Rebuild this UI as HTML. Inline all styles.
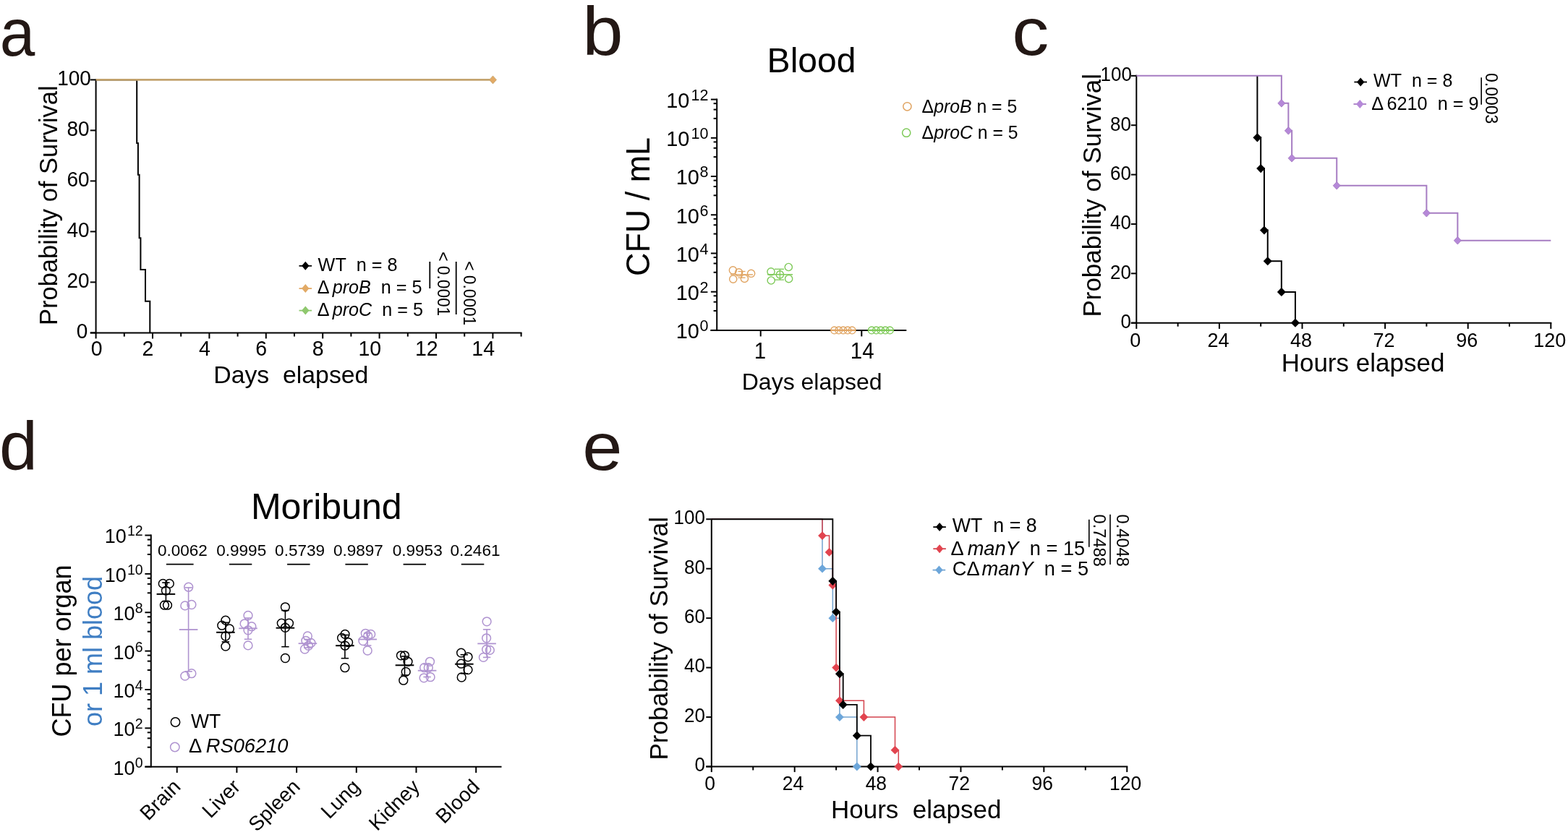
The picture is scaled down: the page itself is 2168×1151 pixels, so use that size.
<!DOCTYPE html>
<html><head><meta charset="utf-8"><title>Figure</title>
<style>
html,body{margin:0;padding:0;background:#fff;}
svg{display:block;}
svg text{font-family:'Liberation Sans', Arial, Helvetica, sans-serif;}
</style></head>
<body>
<svg width="2168" height="1151" viewBox="0 0 2168 1151" font-family="'Liberation Sans', Arial, Helvetica, sans-serif">
<rect width="2168" height="1151" fill="#fff"/>
<text transform="translate(-0.31,76.7) scale(0.9483,1)" font-size="92.17" fill="#231815">a</text>
<text transform="translate(805.17,75.68) scale(1.0722,1)" font-size="94.36" fill="#231815">b</text>
<text transform="translate(1399.26,75.89) scale(1.1008,1)" font-size="92.72" fill="#231815">c</text>
<text transform="translate(-0.9,649.98) scale(1.0130,1)" font-size="93.95" fill="#231815">d</text>
<text transform="translate(805.18,650.29) scale(1.0691,1)" font-size="92.90" fill="#231815">e</text>
<line x1="132.6" y1="109.4" x2="132.6" y2="461.4" stroke="#000" stroke-width="2.0" stroke-linecap="butt"/>
<line x1="124.8" y1="460.4" x2="132.6" y2="460.4" stroke="#000" stroke-width="2.0" stroke-linecap="butt"/>
<text transform="translate(121.3,467.7) scale(1,1.04)" font-size="28" text-anchor="end" fill="#000" >0</text>
<line x1="124.8" y1="390.4" x2="132.6" y2="390.4" stroke="#000" stroke-width="2.0" stroke-linecap="butt"/>
<text transform="translate(123.6,397.7) scale(1,1.04)" font-size="28" text-anchor="end" fill="#000" >20</text>
<line x1="124.8" y1="320.4" x2="132.6" y2="320.4" stroke="#000" stroke-width="2.0" stroke-linecap="butt"/>
<text transform="translate(123.6,327.7) scale(1,1.04)" font-size="28" text-anchor="end" fill="#000" >40</text>
<line x1="124.8" y1="250.4" x2="132.6" y2="250.4" stroke="#000" stroke-width="2.0" stroke-linecap="butt"/>
<text transform="translate(123.6,257.7) scale(1,1.04)" font-size="28" text-anchor="end" fill="#000" >60</text>
<line x1="124.8" y1="180.4" x2="132.6" y2="180.4" stroke="#000" stroke-width="2.0" stroke-linecap="butt"/>
<text transform="translate(123.6,187.7) scale(1,1.04)" font-size="28" text-anchor="end" fill="#000" >80</text>
<line x1="124.8" y1="110.4" x2="132.6" y2="110.4" stroke="#000" stroke-width="2.0" stroke-linecap="butt"/>
<text transform="translate(125.9,117.7) scale(1,1.04)" font-size="28" text-anchor="end" fill="#000" >100</text>
<line x1="124.8" y1="460.4" x2="721.5" y2="460.4" stroke="#000" stroke-width="2.0" stroke-linecap="butt"/>
<line x1="132.6" y1="460.4" x2="132.6" y2="468.4" stroke="#000" stroke-width="2.0" stroke-linecap="butt"/>
<text transform="translate(133.7,492) scale(1,1.04)" font-size="28.5" text-anchor="middle" fill="#000" >0</text>
<line x1="171.8" y1="460.4" x2="171.8" y2="465.6" stroke="#000" stroke-width="2.0" stroke-linecap="butt"/>
<line x1="211" y1="460.4" x2="211" y2="468.4" stroke="#000" stroke-width="2.0" stroke-linecap="butt"/>
<text transform="translate(212.4,492.3) scale(1,1.04)" font-size="28.5" text-anchor="end" fill="#000" >2</text>
<line x1="250.2" y1="460.4" x2="250.2" y2="465.6" stroke="#000" stroke-width="2.0" stroke-linecap="butt"/>
<line x1="289.4" y1="460.4" x2="289.4" y2="468.4" stroke="#000" stroke-width="2.0" stroke-linecap="butt"/>
<text transform="translate(290.8,492.3) scale(1,1.04)" font-size="28.5" text-anchor="end" fill="#000" >4</text>
<line x1="328.6" y1="460.4" x2="328.6" y2="465.6" stroke="#000" stroke-width="2.0" stroke-linecap="butt"/>
<line x1="367.8" y1="460.4" x2="367.8" y2="468.4" stroke="#000" stroke-width="2.0" stroke-linecap="butt"/>
<text transform="translate(369.2,492.3) scale(1,1.04)" font-size="28.5" text-anchor="end" fill="#000" >6</text>
<line x1="407" y1="460.4" x2="407" y2="465.6" stroke="#000" stroke-width="2.0" stroke-linecap="butt"/>
<line x1="446.2" y1="460.4" x2="446.2" y2="468.4" stroke="#000" stroke-width="2.0" stroke-linecap="butt"/>
<text transform="translate(447.6,492.3) scale(1,1.04)" font-size="28.5" text-anchor="end" fill="#000" >8</text>
<line x1="485.4" y1="460.4" x2="485.4" y2="465.6" stroke="#000" stroke-width="2.0" stroke-linecap="butt"/>
<line x1="524.6" y1="460.4" x2="524.6" y2="468.4" stroke="#000" stroke-width="2.0" stroke-linecap="butt"/>
<text transform="translate(527.2,492.3) scale(1,1.04)" font-size="28.5" text-anchor="end" fill="#000" >10</text>
<line x1="563.8" y1="460.4" x2="563.8" y2="465.6" stroke="#000" stroke-width="2.0" stroke-linecap="butt"/>
<line x1="603" y1="460.4" x2="603" y2="468.4" stroke="#000" stroke-width="2.0" stroke-linecap="butt"/>
<text transform="translate(605.6,492.3) scale(1,1.04)" font-size="28.5" text-anchor="end" fill="#000" >12</text>
<line x1="642.2" y1="460.4" x2="642.2" y2="465.6" stroke="#000" stroke-width="2.0" stroke-linecap="butt"/>
<line x1="681.4" y1="460.4" x2="681.4" y2="468.4" stroke="#000" stroke-width="2.0" stroke-linecap="butt"/>
<text transform="translate(684,492.3) scale(1,1.04)" font-size="28.5" text-anchor="end" fill="#000" >14</text>
<line x1="720.6" y1="460.4" x2="720.6" y2="465.6" stroke="#000" stroke-width="2.0" stroke-linecap="butt"/>
<text transform="translate(402.3,530)" font-size="33.8" text-anchor="middle" fill="#000" >Days&#160;&#160;elapsed</text>
<text transform="translate(79.1,450) rotate(-90)" font-size="34.5" text-anchor="start" fill="#000" >Probability of Survival</text>
<polyline points="132.6,110.4 189.2,110.4 189.2,197.9 190.9,197.9 190.9,241.65 192.6,241.65 192.6,329.15 194.4,329.15 194.4,372.9 201,372.9 201,416.65 207.3,416.65 207.3,460.4" fill="none" stroke="#000" stroke-width="2.0" stroke-linejoin="miter" stroke-linecap="butt"/>
<line x1="132.6" y1="110.4" x2="681.5" y2="110.4" stroke="#C3A36E" stroke-width="2.6" stroke-linecap="butt"/>
<polygon points="681.5,104.9 686.5,110.4 681.5,115.9 676.5,110.4" fill="#E2AA66" stroke="#C3A36E" stroke-width="0.8"/>
<line x1="413.5" y1="367.8" x2="431.1" y2="367.8" stroke="#000" stroke-width="1.8" stroke-linecap="butt"/>
<polygon points="422.3,361.8 427.5,367.8 422.3,373.8 417.1,367.8" fill="#000"/>
<line x1="413.5" y1="399.1" x2="431.1" y2="399.1" stroke="#E2AA66" stroke-width="1.8" stroke-linecap="butt"/>
<polygon points="422.3,393.1 427.5,399.1 422.3,405.1 417.1,399.1" fill="#E2AA66"/>
<line x1="413.5" y1="429.6" x2="431.1" y2="429.6" stroke="#8FC86E" stroke-width="1.8" stroke-linecap="butt"/>
<polygon points="422.3,423.6 427.5,429.6 422.3,435.6 417.1,429.6" fill="#8FC86E"/>
<text transform="translate(439.6,374.9) scale(1,1.03)" font-size="25.2" text-anchor="start" fill="#000" >WT&#160;&#160;n = 8</text>
<text transform="translate(438.8,406.1) scale(1,1.03)" font-size="25.2" text-anchor="start" fill="#000" >&#916;<tspan font-style="italic" dx="4">proB</tspan>&#160;&#160;n = 5</text>
<text transform="translate(438.8,436.6) scale(1,1.03)" font-size="25.2" text-anchor="start" fill="#000" >&#916;<tspan font-style="italic" dx="4">proC</tspan>&#160;&#160;n = 5</text>
<line x1="594.3" y1="362" x2="594.3" y2="399" stroke="#000" stroke-width="1.8" stroke-linecap="butt"/>
<line x1="630.7" y1="362" x2="630.7" y2="435" stroke="#000" stroke-width="1.8" stroke-linecap="butt"/>
<text transform="translate(605,348.3) rotate(90) scale(1,1.04)" font-size="22.7" text-anchor="start" fill="#000" >&lt; 0.0001</text>
<text transform="translate(641.2,361.3) rotate(90) scale(1,1.04)" font-size="22.7" text-anchor="start" fill="#000" >&lt; 0.0001</text>
<line x1="991.2" y1="136.58" x2="991.2" y2="457.9" stroke="#000" stroke-width="2.0" stroke-linecap="butt"/>
<line x1="982.9" y1="456.9" x2="991.2" y2="456.9" stroke="#000" stroke-width="2.0" stroke-linecap="butt"/>
<line x1="982.9" y1="403.68" x2="991.2" y2="403.68" stroke="#000" stroke-width="2.0" stroke-linecap="butt"/>
<line x1="986.6" y1="409.28" x2="991.2" y2="409.28" stroke="#000" stroke-width="2.0" stroke-linecap="butt"/>
<line x1="986.6" y1="417.68" x2="991.2" y2="417.68" stroke="#000" stroke-width="2.0" stroke-linecap="butt"/>
<line x1="986.6" y1="429.98" x2="991.2" y2="429.98" stroke="#000" stroke-width="2.0" stroke-linecap="butt"/>
<line x1="982.9" y1="350.46" x2="991.2" y2="350.46" stroke="#000" stroke-width="2.0" stroke-linecap="butt"/>
<line x1="986.6" y1="356.06" x2="991.2" y2="356.06" stroke="#000" stroke-width="2.0" stroke-linecap="butt"/>
<line x1="986.6" y1="364.46" x2="991.2" y2="364.46" stroke="#000" stroke-width="2.0" stroke-linecap="butt"/>
<line x1="986.6" y1="376.76" x2="991.2" y2="376.76" stroke="#000" stroke-width="2.0" stroke-linecap="butt"/>
<line x1="982.9" y1="297.24" x2="991.2" y2="297.24" stroke="#000" stroke-width="2.0" stroke-linecap="butt"/>
<line x1="986.6" y1="302.84" x2="991.2" y2="302.84" stroke="#000" stroke-width="2.0" stroke-linecap="butt"/>
<line x1="986.6" y1="311.24" x2="991.2" y2="311.24" stroke="#000" stroke-width="2.0" stroke-linecap="butt"/>
<line x1="986.6" y1="323.54" x2="991.2" y2="323.54" stroke="#000" stroke-width="2.0" stroke-linecap="butt"/>
<line x1="982.9" y1="244.02" x2="991.2" y2="244.02" stroke="#000" stroke-width="2.0" stroke-linecap="butt"/>
<line x1="986.6" y1="249.62" x2="991.2" y2="249.62" stroke="#000" stroke-width="2.0" stroke-linecap="butt"/>
<line x1="986.6" y1="258.02" x2="991.2" y2="258.02" stroke="#000" stroke-width="2.0" stroke-linecap="butt"/>
<line x1="986.6" y1="270.32" x2="991.2" y2="270.32" stroke="#000" stroke-width="2.0" stroke-linecap="butt"/>
<line x1="982.9" y1="190.8" x2="991.2" y2="190.8" stroke="#000" stroke-width="2.0" stroke-linecap="butt"/>
<line x1="986.6" y1="196.4" x2="991.2" y2="196.4" stroke="#000" stroke-width="2.0" stroke-linecap="butt"/>
<line x1="986.6" y1="204.8" x2="991.2" y2="204.8" stroke="#000" stroke-width="2.0" stroke-linecap="butt"/>
<line x1="986.6" y1="217.1" x2="991.2" y2="217.1" stroke="#000" stroke-width="2.0" stroke-linecap="butt"/>
<line x1="982.9" y1="137.58" x2="991.2" y2="137.58" stroke="#000" stroke-width="2.0" stroke-linecap="butt"/>
<line x1="986.6" y1="143.18" x2="991.2" y2="143.18" stroke="#000" stroke-width="2.0" stroke-linecap="butt"/>
<line x1="986.6" y1="151.58" x2="991.2" y2="151.58" stroke="#000" stroke-width="2.0" stroke-linecap="butt"/>
<line x1="986.6" y1="163.88" x2="991.2" y2="163.88" stroke="#000" stroke-width="2.0" stroke-linecap="butt"/>
<text transform="translate(979.5,468.2)" font-size="28.9" text-anchor="end">10<tspan font-size="21.5" dy="-10" dx="0.66">0</tspan></text>
<text transform="translate(979.5,414.98)" font-size="28.9" text-anchor="end">10<tspan font-size="21.5" dy="-10" dx="0.66">2</tspan></text>
<text transform="translate(979.5,361.76)" font-size="28.9" text-anchor="end">10<tspan font-size="21.5" dy="-10" dx="0.66">4</tspan></text>
<text transform="translate(979.5,308.54)" font-size="28.9" text-anchor="end">10<tspan font-size="21.5" dy="-10" dx="0.66">6</tspan></text>
<text transform="translate(979.5,255.32)" font-size="28.9" text-anchor="end">10<tspan font-size="21.5" dy="-10" dx="0.66">8</tspan></text>
<text transform="translate(979.5,202.1)" font-size="28.9" text-anchor="end">10<tspan font-size="21.5" dy="-10" dx="2.2">10</tspan></text>
<text transform="translate(979.5,148.88)" font-size="28.9" text-anchor="end">10<tspan font-size="21.5" dy="-10" dx="2.2">12</tspan></text>
<line x1="982.3" y1="456.9" x2="1253.3" y2="456.9" stroke="#000" stroke-width="2.0" stroke-linecap="butt"/>
<line x1="1051.7" y1="456.9" x2="1051.7" y2="465.4" stroke="#000" stroke-width="2.0" stroke-linecap="butt"/>
<line x1="1191.3" y1="456.9" x2="1191.3" y2="465.4" stroke="#000" stroke-width="2.0" stroke-linecap="butt"/>
<text transform="translate(1051,496.2) scale(1,1.04)" font-size="29.5" text-anchor="middle" fill="#000" >1</text>
<text transform="translate(1192.2,496.2) scale(1,1.04)" font-size="29.5" text-anchor="middle" fill="#000" >14</text>
<text transform="translate(1122.7,538.8)" font-size="32" text-anchor="middle" fill="#000" >Days elapsed</text>
<text x="1122" y="100.2" font-size="48" text-anchor="middle">Blood</text>
<text transform="translate(898.4,382) rotate(-90) scale(1,1.04)" font-size="44.9" text-anchor="start" fill="#000" >CFU / mL</text>
<circle cx="1013.4" cy="373.8" r="5.1" fill="none" stroke="#E0A462" stroke-width="1.4"/>
<circle cx="1013.7" cy="386.2" r="5.1" fill="none" stroke="#E0A462" stroke-width="1.4"/>
<circle cx="1021.6" cy="376.8" r="5.1" fill="none" stroke="#E0A462" stroke-width="1.4"/>
<circle cx="1029.4" cy="385.4" r="5.1" fill="none" stroke="#E0A462" stroke-width="1.4"/>
<circle cx="1038.6" cy="378.3" r="5.1" fill="none" stroke="#E0A462" stroke-width="1.4"/>
<line x1="1010" y1="379.9" x2="1041" y2="379.9" stroke="#E0A462" stroke-width="1.4" stroke-linecap="butt"/>
<line x1="1025.5" y1="375.5" x2="1025.5" y2="384.2" stroke="#E0A462" stroke-width="1.3" stroke-linecap="butt"/>
<line x1="1020.5" y1="375.5" x2="1030.5" y2="375.5" stroke="#E0A462" stroke-width="1.3" stroke-linecap="butt"/>
<line x1="1020.5" y1="384.2" x2="1030.5" y2="384.2" stroke="#E0A462" stroke-width="1.3" stroke-linecap="butt"/>
<circle cx="1066" cy="375.8" r="5.1" fill="none" stroke="#7DC957" stroke-width="1.4"/>
<circle cx="1066.2" cy="388" r="5.1" fill="none" stroke="#7DC957" stroke-width="1.4"/>
<circle cx="1078.4" cy="379.9" r="5.1" fill="none" stroke="#7DC957" stroke-width="1.4"/>
<circle cx="1090.3" cy="369.5" r="5.1" fill="none" stroke="#7DC957" stroke-width="1.4"/>
<circle cx="1090.6" cy="385.7" r="5.1" fill="none" stroke="#7DC957" stroke-width="1.4"/>
<line x1="1061" y1="379.8" x2="1096" y2="379.8" stroke="#7DC957" stroke-width="1.4" stroke-linecap="butt"/>
<line x1="1078.4" y1="372.3" x2="1078.4" y2="387.1" stroke="#7DC957" stroke-width="1.3" stroke-linecap="butt"/>
<line x1="1071" y1="372.3" x2="1084" y2="372.3" stroke="#7DC957" stroke-width="1.3" stroke-linecap="butt"/>
<line x1="1071" y1="387.1" x2="1084" y2="387.1" stroke="#7DC957" stroke-width="1.3" stroke-linecap="butt"/>
<circle cx="1153.6" cy="456.9" r="4.9" fill="none" stroke="#E0A462" stroke-width="1.3"/>
<circle cx="1159.73" cy="456.9" r="4.9" fill="none" stroke="#E0A462" stroke-width="1.3"/>
<circle cx="1165.86" cy="456.9" r="4.9" fill="none" stroke="#E0A462" stroke-width="1.3"/>
<circle cx="1171.99" cy="456.9" r="4.9" fill="none" stroke="#E0A462" stroke-width="1.3"/>
<circle cx="1178.12" cy="456.9" r="4.9" fill="none" stroke="#E0A462" stroke-width="1.3"/>
<line x1="1148.5" y1="456.9" x2="1183.3" y2="456.9" stroke="#E0A462" stroke-width="2.2" stroke-linecap="butt"/>
<circle cx="1205.2" cy="456.9" r="4.9" fill="none" stroke="#7DC957" stroke-width="1.3"/>
<circle cx="1211.5" cy="456.9" r="4.9" fill="none" stroke="#7DC957" stroke-width="1.3"/>
<circle cx="1217.8" cy="456.9" r="4.9" fill="none" stroke="#7DC957" stroke-width="1.3"/>
<circle cx="1224.1" cy="456.9" r="4.9" fill="none" stroke="#7DC957" stroke-width="1.3"/>
<circle cx="1230.4" cy="456.9" r="4.9" fill="none" stroke="#7DC957" stroke-width="1.3"/>
<line x1="1200" y1="456.9" x2="1235.6" y2="456.9" stroke="#7DC957" stroke-width="2.2" stroke-linecap="butt"/>
<circle cx="1254.4" cy="147.3" r="5.6" fill="none" stroke="#E0A462" stroke-width="1.5"/>
<circle cx="1253.2" cy="183.7" r="5.6" fill="none" stroke="#7DC957" stroke-width="1.5"/>
<text transform="translate(1274.6,155.9) scale(1,1.03)" font-size="24.8" text-anchor="start" fill="#000" >&#916;<tspan font-style="italic">proB</tspan> n = 5</text>
<text transform="translate(1274.6,192) scale(1,1.03)" font-size="24.8" text-anchor="start" fill="#000" >&#916;<tspan font-style="italic">proC</tspan> n = 5</text>
<line x1="1571.3" y1="103.85" x2="1571.3" y2="447.7" stroke="#000" stroke-width="2.0" stroke-linecap="butt"/>
<line x1="1563.8" y1="446.7" x2="1571.3" y2="446.7" stroke="#000" stroke-width="2.0" stroke-linecap="butt"/>
<text transform="translate(1564,454) scale(1,1.04)" font-size="26" text-anchor="end" fill="#000" >0</text>
<line x1="1563.8" y1="378.33" x2="1571.3" y2="378.33" stroke="#000" stroke-width="2.0" stroke-linecap="butt"/>
<text transform="translate(1564,385.63) scale(1,1.04)" font-size="26" text-anchor="end" fill="#000" >20</text>
<line x1="1563.8" y1="309.96" x2="1571.3" y2="309.96" stroke="#000" stroke-width="2.0" stroke-linecap="butt"/>
<text transform="translate(1564,317.26) scale(1,1.04)" font-size="26" text-anchor="end" fill="#000" >40</text>
<line x1="1563.8" y1="241.59" x2="1571.3" y2="241.59" stroke="#000" stroke-width="2.0" stroke-linecap="butt"/>
<text transform="translate(1564,248.89) scale(1,1.04)" font-size="26" text-anchor="end" fill="#000" >60</text>
<line x1="1563.8" y1="173.22" x2="1571.3" y2="173.22" stroke="#000" stroke-width="2.0" stroke-linecap="butt"/>
<text transform="translate(1564,180.52) scale(1,1.04)" font-size="26" text-anchor="end" fill="#000" >80</text>
<line x1="1563.8" y1="104.85" x2="1571.3" y2="104.85" stroke="#000" stroke-width="2.0" stroke-linecap="butt"/>
<text transform="translate(1564.9,112.15) scale(1,1.04)" font-size="26" text-anchor="end" fill="#000" >100</text>
<line x1="1563.8" y1="446.7" x2="2145.3" y2="446.7" stroke="#000" stroke-width="2.0" stroke-linecap="butt"/>
<line x1="1571.3" y1="446.7" x2="1571.3" y2="454.9" stroke="#000" stroke-width="2.0" stroke-linecap="butt"/>
<text transform="translate(1569.8,480.2)" font-size="27" text-anchor="middle" fill="#000" >0</text>
<line x1="1628.6" y1="446.7" x2="1628.6" y2="451.7" stroke="#000" stroke-width="2.0" stroke-linecap="butt"/>
<line x1="1685.9" y1="446.7" x2="1685.9" y2="454.9" stroke="#000" stroke-width="2.0" stroke-linecap="butt"/>
<text transform="translate(1684.4,480.2)" font-size="27" text-anchor="middle" fill="#000" >24</text>
<line x1="1743.2" y1="446.7" x2="1743.2" y2="451.7" stroke="#000" stroke-width="2.0" stroke-linecap="butt"/>
<line x1="1800.5" y1="446.7" x2="1800.5" y2="454.9" stroke="#000" stroke-width="2.0" stroke-linecap="butt"/>
<text transform="translate(1799,480.2)" font-size="27" text-anchor="middle" fill="#000" >48</text>
<line x1="1857.8" y1="446.7" x2="1857.8" y2="451.7" stroke="#000" stroke-width="2.0" stroke-linecap="butt"/>
<line x1="1915.1" y1="446.7" x2="1915.1" y2="454.9" stroke="#000" stroke-width="2.0" stroke-linecap="butt"/>
<text transform="translate(1913.6,480.2)" font-size="27" text-anchor="middle" fill="#000" >72</text>
<line x1="1972.4" y1="446.7" x2="1972.4" y2="451.7" stroke="#000" stroke-width="2.0" stroke-linecap="butt"/>
<line x1="2029.7" y1="446.7" x2="2029.7" y2="454.9" stroke="#000" stroke-width="2.0" stroke-linecap="butt"/>
<text transform="translate(2028.2,480.2)" font-size="27" text-anchor="middle" fill="#000" >96</text>
<line x1="2087" y1="446.7" x2="2087" y2="451.7" stroke="#000" stroke-width="2.0" stroke-linecap="butt"/>
<line x1="2144.3" y1="446.7" x2="2144.3" y2="454.9" stroke="#000" stroke-width="2.0" stroke-linecap="butt"/>
<text transform="translate(2142.8,480.2)" font-size="27" text-anchor="middle" fill="#000" >120</text>
<text transform="translate(1884.5,514)" font-size="35" text-anchor="middle" fill="#000" >Hours elapsed</text>
<text transform="translate(1522.2,438.6) rotate(-90)" font-size="35" text-anchor="start" fill="#000" >Probability of Survival</text>
<polyline points="1738.42,104.85 1738.42,190.31 1743.2,190.31 1743.2,233.04 1747.97,233.04 1747.97,318.51 1752.75,318.51 1752.75,361.24 1771.85,361.24 1771.85,403.97 1790.95,403.97 1790.95,446.7" fill="none" stroke="#000" stroke-width="2.0" stroke-linejoin="miter" stroke-linecap="butt"/>
<polygon points="1738.42,184.21 1744.42,190.31 1738.42,196.41 1732.42,190.31" fill="#000"/>
<polygon points="1743.2,226.94 1749.2,233.04 1743.2,239.14 1737.2,233.04" fill="#000"/>
<polygon points="1747.97,312.41 1753.97,318.51 1747.97,324.61 1741.97,318.51" fill="#000"/>
<polygon points="1752.75,355.14 1758.75,361.24 1752.75,367.34 1746.75,361.24" fill="#000"/>
<polygon points="1771.85,397.87 1777.85,403.97 1771.85,410.07 1765.85,403.97" fill="#000"/>
<polygon points="1790.95,440.6 1796.95,446.7 1790.95,452.8 1784.95,446.7" fill="#000"/>
<polyline points="1571.3,104.85 1771.85,104.85 1771.85,142.83 1781.4,142.83 1781.4,180.82 1786.17,180.82 1786.17,218.8 1848.25,218.8 1848.25,256.78 1972.4,256.78 1972.4,294.77 2015.38,294.77 2015.38,332.75 2144.3,332.75" fill="none" stroke="#A67CC2" stroke-width="2.0" stroke-linejoin="miter" stroke-linecap="butt"/>
<polygon points="1771.85,137.53 1776.85,142.83 1771.85,148.13 1766.85,142.83" fill="#B588D8" stroke="#A67CC2" stroke-width="0.9"/>
<polygon points="1781.4,175.52 1786.4,180.82 1781.4,186.12 1776.4,180.82" fill="#B588D8" stroke="#A67CC2" stroke-width="0.9"/>
<polygon points="1786.17,213.5 1791.17,218.8 1786.17,224.1 1781.17,218.8" fill="#B588D8" stroke="#A67CC2" stroke-width="0.9"/>
<polygon points="1848.25,251.48 1853.25,256.78 1848.25,262.08 1843.25,256.78" fill="#B588D8" stroke="#A67CC2" stroke-width="0.9"/>
<polygon points="1972.4,289.47 1977.4,294.77 1972.4,300.07 1967.4,294.77" fill="#B588D8" stroke="#A67CC2" stroke-width="0.9"/>
<polygon points="2015.38,327.45 2020.38,332.75 2015.38,338.05 2010.38,332.75" fill="#B588D8" stroke="#A67CC2" stroke-width="0.9"/>
<line x1="1872.4" y1="113.5" x2="1890" y2="113.5" stroke="#000" stroke-width="1.8" stroke-linecap="butt"/>
<polygon points="1881.2,107.5 1886.4,113.5 1881.2,119.5 1876,113.5" fill="#000"/>
<line x1="1871.5" y1="144" x2="1889.1" y2="144" stroke="#A67CC2" stroke-width="1.8" stroke-linecap="butt"/>
<polygon points="1880.3,138 1885.5,144 1880.3,150 1875.1,144" fill="#B588D8"/>
<text transform="translate(1899,120) scale(1,1.03)" font-size="25.1" text-anchor="start" fill="#000" >WT&#160;&#160;n = 8</text>
<text transform="translate(1896.2,152.3) scale(1,1.04)" font-size="25.3" text-anchor="start" fill="#000" >&#916;<tspan dx="4.3">6210</tspan>&#160;&#160;n = 9</text>
<line x1="2048.2" y1="107.2" x2="2048.2" y2="144.8" stroke="#000" stroke-width="1.6" stroke-linecap="butt"/>
<text transform="translate(2053.8,101) rotate(90) scale(1,1.04)" font-size="23.0" text-anchor="start" fill="#000" >0.0003</text>
<line x1="208.8" y1="739.54" x2="208.8" y2="1061.7" stroke="#000" stroke-width="2.0" stroke-linecap="butt"/>
<line x1="200.4" y1="1060.7" x2="208.8" y2="1060.7" stroke="#000" stroke-width="2.0" stroke-linecap="butt"/>
<line x1="200.4" y1="1007.34" x2="208.8" y2="1007.34" stroke="#000" stroke-width="2.0" stroke-linecap="butt"/>
<line x1="203.8" y1="1013.34" x2="208.8" y2="1013.34" stroke="#000" stroke-width="2.0" stroke-linecap="butt"/>
<line x1="203.8" y1="1021.34" x2="208.8" y2="1021.34" stroke="#000" stroke-width="2.0" stroke-linecap="butt"/>
<line x1="203.8" y1="1033.74" x2="208.8" y2="1033.74" stroke="#000" stroke-width="2.0" stroke-linecap="butt"/>
<line x1="200.4" y1="953.98" x2="208.8" y2="953.98" stroke="#000" stroke-width="2.0" stroke-linecap="butt"/>
<line x1="203.8" y1="959.98" x2="208.8" y2="959.98" stroke="#000" stroke-width="2.0" stroke-linecap="butt"/>
<line x1="203.8" y1="967.98" x2="208.8" y2="967.98" stroke="#000" stroke-width="2.0" stroke-linecap="butt"/>
<line x1="203.8" y1="980.38" x2="208.8" y2="980.38" stroke="#000" stroke-width="2.0" stroke-linecap="butt"/>
<line x1="200.4" y1="900.62" x2="208.8" y2="900.62" stroke="#000" stroke-width="2.0" stroke-linecap="butt"/>
<line x1="203.8" y1="906.62" x2="208.8" y2="906.62" stroke="#000" stroke-width="2.0" stroke-linecap="butt"/>
<line x1="203.8" y1="914.62" x2="208.8" y2="914.62" stroke="#000" stroke-width="2.0" stroke-linecap="butt"/>
<line x1="203.8" y1="927.02" x2="208.8" y2="927.02" stroke="#000" stroke-width="2.0" stroke-linecap="butt"/>
<line x1="200.4" y1="847.26" x2="208.8" y2="847.26" stroke="#000" stroke-width="2.0" stroke-linecap="butt"/>
<line x1="203.8" y1="853.26" x2="208.8" y2="853.26" stroke="#000" stroke-width="2.0" stroke-linecap="butt"/>
<line x1="203.8" y1="861.26" x2="208.8" y2="861.26" stroke="#000" stroke-width="2.0" stroke-linecap="butt"/>
<line x1="203.8" y1="873.66" x2="208.8" y2="873.66" stroke="#000" stroke-width="2.0" stroke-linecap="butt"/>
<line x1="200.4" y1="793.9" x2="208.8" y2="793.9" stroke="#000" stroke-width="2.0" stroke-linecap="butt"/>
<line x1="203.8" y1="799.9" x2="208.8" y2="799.9" stroke="#000" stroke-width="2.0" stroke-linecap="butt"/>
<line x1="203.8" y1="807.9" x2="208.8" y2="807.9" stroke="#000" stroke-width="2.0" stroke-linecap="butt"/>
<line x1="203.8" y1="820.3" x2="208.8" y2="820.3" stroke="#000" stroke-width="2.0" stroke-linecap="butt"/>
<line x1="200.4" y1="740.54" x2="208.8" y2="740.54" stroke="#000" stroke-width="2.0" stroke-linecap="butt"/>
<line x1="203.8" y1="746.54" x2="208.8" y2="746.54" stroke="#000" stroke-width="2.0" stroke-linecap="butt"/>
<line x1="203.8" y1="754.54" x2="208.8" y2="754.54" stroke="#000" stroke-width="2.0" stroke-linecap="butt"/>
<line x1="203.8" y1="766.94" x2="208.8" y2="766.94" stroke="#000" stroke-width="2.0" stroke-linecap="butt"/>
<text transform="translate(197.6,1071.6)" font-size="27" text-anchor="end">10<tspan font-size="19.5" dy="-10" dx="0.3">0</tspan></text>
<text transform="translate(197.6,1018.24)" font-size="27" text-anchor="end">10<tspan font-size="19.5" dy="-10" dx="0.3">2</tspan></text>
<text transform="translate(197.6,964.88)" font-size="27" text-anchor="end">10<tspan font-size="19.5" dy="-10" dx="0.3">4</tspan></text>
<text transform="translate(197.6,911.52)" font-size="27" text-anchor="end">10<tspan font-size="19.5" dy="-10" dx="0.3">6</tspan></text>
<text transform="translate(197.6,858.16)" font-size="27" text-anchor="end">10<tspan font-size="19.5" dy="-10" dx="0.3">8</tspan></text>
<text transform="translate(197.6,804.8)" font-size="27" text-anchor="end">10<tspan font-size="19.5" dy="-10" dx="1">10</tspan></text>
<text transform="translate(197.6,751.44)" font-size="27" text-anchor="end">10<tspan font-size="19.5" dy="-10" dx="1">12</tspan></text>
<line x1="200.4" y1="1060.7" x2="693.5" y2="1060.7" stroke="#000" stroke-width="2.0" stroke-linecap="butt"/>
<line x1="244.7" y1="1060.7" x2="244.7" y2="1069.1" stroke="#000" stroke-width="2.0" stroke-linecap="butt"/>
<text transform="translate(251.2,1090) rotate(-45)" font-size="28" text-anchor="end" fill="#000" >Brain</text>
<line x1="327.4" y1="1060.7" x2="327.4" y2="1069.1" stroke="#000" stroke-width="2.0" stroke-linecap="butt"/>
<text transform="translate(333.9,1090) rotate(-45)" font-size="28" text-anchor="end" fill="#000" >Liver</text>
<line x1="410.1" y1="1060.7" x2="410.1" y2="1069.1" stroke="#000" stroke-width="2.0" stroke-linecap="butt"/>
<text transform="translate(416.6,1090) rotate(-45)" font-size="28" text-anchor="end" fill="#000" >Spleen</text>
<line x1="492.8" y1="1060.7" x2="492.8" y2="1069.1" stroke="#000" stroke-width="2.0" stroke-linecap="butt"/>
<text transform="translate(499.3,1090) rotate(-45)" font-size="28" text-anchor="end" fill="#000" >Lung</text>
<line x1="575.5" y1="1060.7" x2="575.5" y2="1069.1" stroke="#000" stroke-width="2.0" stroke-linecap="butt"/>
<text transform="translate(582,1090) rotate(-45)" font-size="28" text-anchor="end" fill="#000" >Kidney</text>
<line x1="658.2" y1="1060.7" x2="658.2" y2="1069.1" stroke="#000" stroke-width="2.0" stroke-linecap="butt"/>
<text transform="translate(664.7,1090) rotate(-45)" font-size="28" text-anchor="end" fill="#000" >Blood</text>
<text x="451.3" y="717.5" font-size="50.1" text-anchor="middle">Moribund</text>
<text x="252.4" y="769.4" font-size="22" text-anchor="middle" textLength="69" lengthAdjust="spacingAndGlyphs">0.0062</text>
<text x="333.7" y="769.4" font-size="22" text-anchor="middle" textLength="69" lengthAdjust="spacingAndGlyphs">0.9995</text>
<text x="414.6" y="769.4" font-size="22" text-anchor="middle" textLength="69" lengthAdjust="spacingAndGlyphs">0.5739</text>
<text x="495.4" y="769.4" font-size="22" text-anchor="middle" textLength="69" lengthAdjust="spacingAndGlyphs">0.9897</text>
<text x="577.2" y="769.4" font-size="22" text-anchor="middle" textLength="69" lengthAdjust="spacingAndGlyphs">0.9953</text>
<text x="657" y="769.4" font-size="22" text-anchor="middle" textLength="69" lengthAdjust="spacingAndGlyphs">0.2461</text>
<line x1="229.9" y1="780.7" x2="267.6" y2="780.7" stroke="#000" stroke-width="1.8" stroke-linecap="butt"/>
<line x1="316.9" y1="780.7" x2="348.3" y2="780.7" stroke="#000" stroke-width="1.8" stroke-linecap="butt"/>
<line x1="397.1" y1="780.7" x2="428.6" y2="780.7" stroke="#000" stroke-width="1.8" stroke-linecap="butt"/>
<line x1="477.4" y1="780.7" x2="508.8" y2="780.7" stroke="#000" stroke-width="1.8" stroke-linecap="butt"/>
<line x1="557.6" y1="780.7" x2="589" y2="780.7" stroke="#000" stroke-width="1.8" stroke-linecap="butt"/>
<line x1="637.8" y1="780.7" x2="669.3" y2="780.7" stroke="#000" stroke-width="1.8" stroke-linecap="butt"/>
<text transform="translate(97.8,1019.5) rotate(-90)" font-size="36" text-anchor="start" fill="#000" >CFU per organ</text>
<text transform="translate(140.8,1005) rotate(-90)" font-size="36" text-anchor="start" fill="#3F7EC3" >or 1 ml blood</text>
<circle cx="225.3" cy="807.4" r="5.9" fill="none" stroke="#000" stroke-width="1.5"/>
<circle cx="234.3" cy="807.4" r="5.9" fill="none" stroke="#000" stroke-width="1.5"/>
<circle cx="229.4" cy="817.1" r="5.9" fill="none" stroke="#000" stroke-width="1.5"/>
<circle cx="227.4" cy="837.2" r="5.9" fill="none" stroke="#000" stroke-width="1.5"/>
<circle cx="231.5" cy="837.2" r="5.9" fill="none" stroke="#000" stroke-width="1.5"/>
<line x1="216.6" y1="821.9" x2="242.2" y2="821.9" stroke="#000" stroke-width="2.0" stroke-linecap="butt"/>
<line x1="229.4" y1="806" x2="229.4" y2="831.7" stroke="#000" stroke-width="1.6" stroke-linecap="butt"/>
<line x1="224.2" y1="806" x2="234.6" y2="806" stroke="#000" stroke-width="1.6" stroke-linecap="butt"/>
<line x1="224.2" y1="831.7" x2="234.6" y2="831.7" stroke="#000" stroke-width="1.6" stroke-linecap="butt"/>
<circle cx="311.9" cy="858.1" r="5.9" fill="none" stroke="#000" stroke-width="1.5"/>
<circle cx="306.8" cy="865.2" r="5.9" fill="none" stroke="#000" stroke-width="1.5"/>
<circle cx="317.4" cy="869.9" r="5.9" fill="none" stroke="#000" stroke-width="1.5"/>
<circle cx="311.9" cy="880" r="5.9" fill="none" stroke="#000" stroke-width="1.5"/>
<circle cx="311.9" cy="894.1" r="5.9" fill="none" stroke="#000" stroke-width="1.5"/>
<line x1="299.1" y1="874.8" x2="324.7" y2="874.8" stroke="#000" stroke-width="2.0" stroke-linecap="butt"/>
<line x1="311.9" y1="861.3" x2="311.9" y2="887.9" stroke="#000" stroke-width="1.6" stroke-linecap="butt"/>
<line x1="306.7" y1="861.3" x2="317.1" y2="861.3" stroke="#000" stroke-width="1.6" stroke-linecap="butt"/>
<line x1="306.7" y1="887.9" x2="317.1" y2="887.9" stroke="#000" stroke-width="1.6" stroke-linecap="butt"/>
<circle cx="394.4" cy="839.8" r="5.9" fill="none" stroke="#000" stroke-width="1.5"/>
<circle cx="389.3" cy="862.1" r="5.9" fill="none" stroke="#000" stroke-width="1.5"/>
<circle cx="399.5" cy="862.1" r="5.9" fill="none" stroke="#000" stroke-width="1.5"/>
<circle cx="394.4" cy="868.3" r="5.9" fill="none" stroke="#000" stroke-width="1.5"/>
<circle cx="394.4" cy="910.5" r="5.9" fill="none" stroke="#000" stroke-width="1.5"/>
<line x1="381.6" y1="868.7" x2="407.2" y2="868.7" stroke="#000" stroke-width="2.0" stroke-linecap="butt"/>
<line x1="394.4" y1="844.5" x2="394.4" y2="894.7" stroke="#000" stroke-width="1.6" stroke-linecap="butt"/>
<line x1="389.2" y1="844.5" x2="399.6" y2="844.5" stroke="#000" stroke-width="1.6" stroke-linecap="butt"/>
<line x1="389.2" y1="894.7" x2="399.6" y2="894.7" stroke="#000" stroke-width="1.6" stroke-linecap="butt"/>
<circle cx="477.1" cy="877.4" r="5.9" fill="none" stroke="#000" stroke-width="1.5"/>
<circle cx="472.6" cy="882.5" r="5.9" fill="none" stroke="#000" stroke-width="1.5"/>
<circle cx="481.6" cy="888.7" r="5.9" fill="none" stroke="#000" stroke-width="1.5"/>
<circle cx="477.1" cy="893.2" r="5.9" fill="none" stroke="#000" stroke-width="1.5"/>
<circle cx="476.9" cy="923.7" r="5.9" fill="none" stroke="#000" stroke-width="1.5"/>
<line x1="464.1" y1="893.2" x2="489.7" y2="893.2" stroke="#000" stroke-width="2.0" stroke-linecap="butt"/>
<line x1="476.9" y1="878.5" x2="476.9" y2="910.7" stroke="#000" stroke-width="1.6" stroke-linecap="butt"/>
<line x1="471.7" y1="878.5" x2="482.1" y2="878.5" stroke="#000" stroke-width="1.6" stroke-linecap="butt"/>
<line x1="471.7" y1="910.7" x2="482.1" y2="910.7" stroke="#000" stroke-width="1.6" stroke-linecap="butt"/>
<circle cx="554.4" cy="906.8" r="5.9" fill="none" stroke="#000" stroke-width="1.5"/>
<circle cx="559.5" cy="906.8" r="5.9" fill="none" stroke="#000" stroke-width="1.5"/>
<circle cx="564" cy="915.3" r="5.9" fill="none" stroke="#000" stroke-width="1.5"/>
<circle cx="561.2" cy="929.4" r="5.9" fill="none" stroke="#000" stroke-width="1.5"/>
<circle cx="557.8" cy="941.2" r="5.9" fill="none" stroke="#000" stroke-width="1.5"/>
<line x1="546.7" y1="920.3" x2="572.3" y2="920.3" stroke="#000" stroke-width="2.0" stroke-linecap="butt"/>
<line x1="559.5" y1="908" x2="559.5" y2="934" stroke="#000" stroke-width="1.6" stroke-linecap="butt"/>
<line x1="554.3" y1="908" x2="564.7" y2="908" stroke="#000" stroke-width="1.6" stroke-linecap="butt"/>
<line x1="554.3" y1="934" x2="564.7" y2="934" stroke="#000" stroke-width="1.6" stroke-linecap="butt"/>
<circle cx="637.6" cy="903.1" r="5.9" fill="none" stroke="#000" stroke-width="1.5"/>
<circle cx="647" cy="908.8" r="5.9" fill="none" stroke="#000" stroke-width="1.5"/>
<circle cx="637.6" cy="918.2" r="5.9" fill="none" stroke="#000" stroke-width="1.5"/>
<circle cx="647" cy="926.6" r="5.9" fill="none" stroke="#000" stroke-width="1.5"/>
<circle cx="638.2" cy="937" r="5.9" fill="none" stroke="#000" stroke-width="1.5"/>
<line x1="629" y1="918.7" x2="654.6" y2="918.7" stroke="#000" stroke-width="2.0" stroke-linecap="butt"/>
<line x1="641.8" y1="905.7" x2="641.8" y2="931.8" stroke="#000" stroke-width="1.6" stroke-linecap="butt"/>
<line x1="636.6" y1="905.7" x2="647" y2="905.7" stroke="#000" stroke-width="1.6" stroke-linecap="butt"/>
<line x1="636.6" y1="931.8" x2="647" y2="931.8" stroke="#000" stroke-width="1.6" stroke-linecap="butt"/>
<circle cx="260.7" cy="812.2" r="5.9" fill="none" stroke="#AF93D0" stroke-width="1.5"/>
<circle cx="255.8" cy="837.9" r="5.9" fill="none" stroke="#AF93D0" stroke-width="1.5"/>
<circle cx="264.9" cy="836.5" r="5.9" fill="none" stroke="#AF93D0" stroke-width="1.5"/>
<circle cx="255.8" cy="935.1" r="5.9" fill="none" stroke="#AF93D0" stroke-width="1.5"/>
<circle cx="264.9" cy="931.7" r="5.9" fill="none" stroke="#AF93D0" stroke-width="1.5"/>
<line x1="247.8" y1="871" x2="273.4" y2="871" stroke="#AF93D0" stroke-width="1.8" stroke-linecap="butt"/>
<line x1="260.6" y1="812.9" x2="260.6" y2="928.9" stroke="#AF93D0" stroke-width="1.6" stroke-linecap="butt"/>
<line x1="255.4" y1="812.9" x2="265.8" y2="812.9" stroke="#AF93D0" stroke-width="1.6" stroke-linecap="butt"/>
<line x1="255.4" y1="928.9" x2="265.8" y2="928.9" stroke="#AF93D0" stroke-width="1.6" stroke-linecap="butt"/>
<circle cx="343" cy="851.5" r="5.9" fill="none" stroke="#AF93D0" stroke-width="1.5"/>
<circle cx="338.1" cy="862.8" r="5.9" fill="none" stroke="#AF93D0" stroke-width="1.5"/>
<circle cx="347.9" cy="866.7" r="5.9" fill="none" stroke="#AF93D0" stroke-width="1.5"/>
<circle cx="343" cy="871.8" r="5.9" fill="none" stroke="#AF93D0" stroke-width="1.5"/>
<circle cx="343" cy="892.9" r="5.9" fill="none" stroke="#AF93D0" stroke-width="1.5"/>
<line x1="330.2" y1="869.3" x2="355.8" y2="869.3" stroke="#AF93D0" stroke-width="1.8" stroke-linecap="butt"/>
<line x1="343" y1="855" x2="343" y2="884.3" stroke="#AF93D0" stroke-width="1.6" stroke-linecap="butt"/>
<line x1="337.8" y1="855" x2="348.2" y2="855" stroke="#AF93D0" stroke-width="1.6" stroke-linecap="butt"/>
<line x1="337.8" y1="884.3" x2="348.2" y2="884.3" stroke="#AF93D0" stroke-width="1.6" stroke-linecap="butt"/>
<circle cx="425.3" cy="880" r="5.9" fill="none" stroke="#AF93D0" stroke-width="1.5"/>
<circle cx="422.9" cy="886.3" r="5.9" fill="none" stroke="#AF93D0" stroke-width="1.5"/>
<circle cx="430" cy="889.4" r="5.9" fill="none" stroke="#AF93D0" stroke-width="1.5"/>
<circle cx="421.4" cy="898" r="5.9" fill="none" stroke="#AF93D0" stroke-width="1.5"/>
<circle cx="426.4" cy="893.3" r="5.9" fill="none" stroke="#AF93D0" stroke-width="1.5"/>
<line x1="412.6" y1="890.2" x2="438.2" y2="890.2" stroke="#AF93D0" stroke-width="1.8" stroke-linecap="butt"/>
<line x1="425.4" y1="884.5" x2="425.4" y2="896" stroke="#AF93D0" stroke-width="1.6" stroke-linecap="butt"/>
<line x1="420.2" y1="884.5" x2="430.6" y2="884.5" stroke="#AF93D0" stroke-width="1.6" stroke-linecap="butt"/>
<line x1="420.2" y1="896" x2="430.6" y2="896" stroke="#AF93D0" stroke-width="1.6" stroke-linecap="butt"/>
<circle cx="505.3" cy="876.3" r="5.9" fill="none" stroke="#AF93D0" stroke-width="1.5"/>
<circle cx="512.7" cy="877.4" r="5.9" fill="none" stroke="#AF93D0" stroke-width="1.5"/>
<circle cx="508.7" cy="879.7" r="5.9" fill="none" stroke="#AF93D0" stroke-width="1.5"/>
<circle cx="501.9" cy="886.5" r="5.9" fill="none" stroke="#AF93D0" stroke-width="1.5"/>
<circle cx="508.2" cy="900" r="5.9" fill="none" stroke="#AF93D0" stroke-width="1.5"/>
<line x1="495.4" y1="884.5" x2="521" y2="884.5" stroke="#AF93D0" stroke-width="1.8" stroke-linecap="butt"/>
<line x1="508.2" y1="876" x2="508.2" y2="893" stroke="#AF93D0" stroke-width="1.6" stroke-linecap="butt"/>
<line x1="503" y1="876" x2="513.4" y2="876" stroke="#AF93D0" stroke-width="1.6" stroke-linecap="butt"/>
<line x1="503" y1="893" x2="513.4" y2="893" stroke="#AF93D0" stroke-width="1.6" stroke-linecap="butt"/>
<circle cx="594.5" cy="915.3" r="5.9" fill="none" stroke="#AF93D0" stroke-width="1.5"/>
<circle cx="586.6" cy="923.7" r="5.9" fill="none" stroke="#AF93D0" stroke-width="1.5"/>
<circle cx="592.3" cy="923.7" r="5.9" fill="none" stroke="#AF93D0" stroke-width="1.5"/>
<circle cx="586.1" cy="937.8" r="5.9" fill="none" stroke="#AF93D0" stroke-width="1.5"/>
<circle cx="595.1" cy="936.7" r="5.9" fill="none" stroke="#AF93D0" stroke-width="1.5"/>
<line x1="577.8" y1="927.7" x2="603.4" y2="927.7" stroke="#AF93D0" stroke-width="1.8" stroke-linecap="butt"/>
<line x1="590.6" y1="919" x2="590.6" y2="936.5" stroke="#AF93D0" stroke-width="1.6" stroke-linecap="butt"/>
<line x1="585.4" y1="919" x2="595.8" y2="919" stroke="#AF93D0" stroke-width="1.6" stroke-linecap="butt"/>
<line x1="585.4" y1="936.5" x2="595.8" y2="936.5" stroke="#AF93D0" stroke-width="1.6" stroke-linecap="butt"/>
<circle cx="673.1" cy="859.8" r="5.9" fill="none" stroke="#AF93D0" stroke-width="1.5"/>
<circle cx="672.6" cy="882.8" r="5.9" fill="none" stroke="#AF93D0" stroke-width="1.5"/>
<circle cx="672.6" cy="898.4" r="5.9" fill="none" stroke="#AF93D0" stroke-width="1.5"/>
<circle cx="677.3" cy="899.4" r="5.9" fill="none" stroke="#AF93D0" stroke-width="1.5"/>
<circle cx="668.4" cy="909.4" r="5.9" fill="none" stroke="#AF93D0" stroke-width="1.5"/>
<line x1="660.3" y1="890.4" x2="685.9" y2="890.4" stroke="#AF93D0" stroke-width="1.8" stroke-linecap="butt"/>
<line x1="673.1" y1="870.8" x2="673.1" y2="909.4" stroke="#AF93D0" stroke-width="1.6" stroke-linecap="butt"/>
<line x1="667.9" y1="870.8" x2="678.3" y2="870.8" stroke="#AF93D0" stroke-width="1.6" stroke-linecap="butt"/>
<line x1="667.9" y1="909.4" x2="678.3" y2="909.4" stroke="#AF93D0" stroke-width="1.6" stroke-linecap="butt"/>
<circle cx="242.5" cy="999" r="6.2" fill="none" stroke="#000" stroke-width="1.5"/>
<circle cx="241.8" cy="1033.5" r="6.2" fill="none" stroke="#AF93D0" stroke-width="1.5"/>
<text transform="translate(264,1006.7) scale(1,1.03)" font-size="26.6" text-anchor="start" fill="#000" >WT</text>
<text transform="translate(261,1040.9) scale(1,1.03)" font-size="27.3" text-anchor="start" fill="#000" >&#916;<tspan font-style="italic" dx="5.5">RS06210</tspan></text>
<line x1="983.8" y1="717.25" x2="983.8" y2="1061.5" stroke="#000" stroke-width="2.0" stroke-linecap="butt"/>
<line x1="976.3" y1="1060.5" x2="983.8" y2="1060.5" stroke="#000" stroke-width="2.0" stroke-linecap="butt"/>
<text transform="translate(974.9,1067.3) scale(1,1.04)" font-size="26" text-anchor="end" fill="#000" >0</text>
<line x1="976.3" y1="992.05" x2="983.8" y2="992.05" stroke="#000" stroke-width="2.0" stroke-linecap="butt"/>
<text transform="translate(974.9,998.85) scale(1,1.04)" font-size="26" text-anchor="end" fill="#000" >20</text>
<line x1="976.3" y1="923.6" x2="983.8" y2="923.6" stroke="#000" stroke-width="2.0" stroke-linecap="butt"/>
<text transform="translate(974.9,930.4) scale(1,1.04)" font-size="26" text-anchor="end" fill="#000" >40</text>
<line x1="976.3" y1="855.15" x2="983.8" y2="855.15" stroke="#000" stroke-width="2.0" stroke-linecap="butt"/>
<text transform="translate(974.9,861.95) scale(1,1.04)" font-size="26" text-anchor="end" fill="#000" >60</text>
<line x1="976.3" y1="786.7" x2="983.8" y2="786.7" stroke="#000" stroke-width="2.0" stroke-linecap="butt"/>
<text transform="translate(974.9,793.5) scale(1,1.04)" font-size="26" text-anchor="end" fill="#000" >80</text>
<line x1="976.3" y1="718.25" x2="983.8" y2="718.25" stroke="#000" stroke-width="2.0" stroke-linecap="butt"/>
<text transform="translate(974.9,725.05) scale(1,1.04)" font-size="26" text-anchor="end" fill="#000" >100</text>
<line x1="976.3" y1="1060.5" x2="1559.24" y2="1060.5" stroke="#000" stroke-width="2.0" stroke-linecap="butt"/>
<line x1="983.8" y1="1060.5" x2="983.8" y2="1068.1" stroke="#000" stroke-width="2.0" stroke-linecap="butt"/>
<text transform="translate(981.6,1093) scale(1,1.04)" font-size="26.5" text-anchor="middle" fill="#000" >0</text>
<line x1="1041.24" y1="1060.5" x2="1041.24" y2="1065.5" stroke="#000" stroke-width="2.0" stroke-linecap="butt"/>
<line x1="1098.69" y1="1060.5" x2="1098.69" y2="1068.1" stroke="#000" stroke-width="2.0" stroke-linecap="butt"/>
<text transform="translate(1096.49,1093) scale(1,1.04)" font-size="26.5" text-anchor="middle" fill="#000" >24</text>
<line x1="1156.13" y1="1060.5" x2="1156.13" y2="1065.5" stroke="#000" stroke-width="2.0" stroke-linecap="butt"/>
<line x1="1213.58" y1="1060.5" x2="1213.58" y2="1068.1" stroke="#000" stroke-width="2.0" stroke-linecap="butt"/>
<text transform="translate(1211.38,1093) scale(1,1.04)" font-size="26.5" text-anchor="middle" fill="#000" >48</text>
<line x1="1271.02" y1="1060.5" x2="1271.02" y2="1065.5" stroke="#000" stroke-width="2.0" stroke-linecap="butt"/>
<line x1="1328.46" y1="1060.5" x2="1328.46" y2="1068.1" stroke="#000" stroke-width="2.0" stroke-linecap="butt"/>
<text transform="translate(1326.26,1093) scale(1,1.04)" font-size="26.5" text-anchor="middle" fill="#000" >72</text>
<line x1="1385.91" y1="1060.5" x2="1385.91" y2="1065.5" stroke="#000" stroke-width="2.0" stroke-linecap="butt"/>
<line x1="1443.35" y1="1060.5" x2="1443.35" y2="1068.1" stroke="#000" stroke-width="2.0" stroke-linecap="butt"/>
<text transform="translate(1441.15,1093) scale(1,1.04)" font-size="26.5" text-anchor="middle" fill="#000" >96</text>
<line x1="1500.8" y1="1060.5" x2="1500.8" y2="1065.5" stroke="#000" stroke-width="2.0" stroke-linecap="butt"/>
<line x1="1558.24" y1="1060.5" x2="1558.24" y2="1068.1" stroke="#000" stroke-width="2.0" stroke-linecap="butt"/>
<text transform="translate(1556.04,1093) scale(1,1.04)" font-size="26.5" text-anchor="middle" fill="#000" >120</text>
<text transform="translate(1266.7,1131.7)" font-size="35" text-anchor="middle" fill="#000" >Hours&#160;&#160;elapsed</text>
<text transform="translate(923.3,1051.5) rotate(-90)" font-size="35" text-anchor="start" fill="#000" >Probability of Survival</text>
<polyline points="983.8,718.25 1136.98,718.25 1136.98,786.7 1151.35,786.7 1151.35,855.15 1160.92,855.15 1160.92,992.05 1184.85,992.05 1184.85,1060.5" fill="none" stroke="#74A4D0" stroke-width="1.5" stroke-linejoin="miter" stroke-linecap="butt"/>
<polygon points="1136.98,780.8 1142.88,786.7 1136.98,792.6 1131.08,786.7" fill="#6CA6DA"/>
<polygon points="1151.35,849.25 1157.25,855.15 1151.35,861.05 1145.44,855.15" fill="#6CA6DA"/>
<polygon points="1160.92,986.15 1166.82,992.05 1160.92,997.95 1155.02,992.05" fill="#6CA6DA"/>
<polygon points="1184.85,1054.6 1190.75,1060.5 1184.85,1066.4 1178.95,1060.5" fill="#6CA6DA"/>
<polyline points="983.8,718.25 1136.98,718.25 1136.98,741.07 1146.56,741.07 1146.56,763.88 1151.35,763.88 1151.35,809.52 1156.13,809.52 1156.13,923.6 1160.92,923.6 1160.92,969.23 1194.43,969.23 1194.43,992.05 1237.51,992.05 1237.51,1037.68 1242.3,1037.68 1242.3,1060.5" fill="none" stroke="#D4434D" stroke-width="1.5" stroke-linejoin="miter" stroke-linecap="butt"/>
<polygon points="1136.98,735.17 1142.88,741.07 1136.98,746.97 1131.08,741.07" fill="#E2444F"/>
<polygon points="1146.56,757.98 1152.46,763.88 1146.56,769.78 1140.66,763.88" fill="#E2444F"/>
<polygon points="1151.35,803.62 1157.25,809.52 1151.35,815.42 1145.44,809.52" fill="#E2444F"/>
<polygon points="1156.13,917.7 1162.03,923.6 1156.13,929.5 1150.23,923.6" fill="#E2444F"/>
<polygon points="1160.92,963.33 1166.82,969.23 1160.92,975.13 1155.02,969.23" fill="#E2444F"/>
<polygon points="1194.43,986.15 1200.33,992.05 1194.43,997.95 1188.53,992.05" fill="#E2444F"/>
<polygon points="1237.51,1031.78 1243.41,1037.68 1237.51,1043.58 1231.61,1037.68" fill="#E2444F"/>
<polygon points="1242.3,1054.6 1248.2,1060.5 1242.3,1066.4 1236.4,1060.5" fill="#E2444F"/>
<polyline points="983.8,718.25 1151.35,718.25 1151.35,803.81 1156.13,803.81 1156.13,846.59 1160.92,846.59 1160.92,932.16 1165.71,932.16 1165.71,974.94 1184.85,974.94 1184.85,1017.72 1204,1017.72 1204,1060.5" fill="none" stroke="#000" stroke-width="1.8" stroke-linejoin="miter" stroke-linecap="butt"/>
<polygon points="1151.35,797.71 1157.35,803.81 1151.35,809.91 1145.35,803.81" fill="#000"/>
<polygon points="1156.13,840.49 1162.13,846.59 1156.13,852.69 1150.13,846.59" fill="#000"/>
<polygon points="1160.92,926.06 1166.92,932.16 1160.92,938.26 1154.92,932.16" fill="#000"/>
<polygon points="1165.71,968.84 1171.71,974.94 1165.71,981.04 1159.71,974.94" fill="#000"/>
<polygon points="1184.85,1011.62 1190.85,1017.72 1184.85,1023.82 1178.85,1017.72" fill="#000"/>
<polygon points="1204,1054.4 1210,1060.5 1204,1066.6 1198,1060.5" fill="#000"/>
<line x1="1290.3" y1="729.1" x2="1307.9" y2="729.1" stroke="#000" stroke-width="1.8" stroke-linecap="butt"/>
<polygon points="1299.1,723.1 1304.3,729.1 1299.1,735.1 1293.9,729.1" fill="#000"/>
<line x1="1290.3" y1="759.2" x2="1307.9" y2="759.2" stroke="#D4434D" stroke-width="1.8" stroke-linecap="butt"/>
<polygon points="1299.1,753.2 1304.3,759.2 1299.1,765.2 1293.9,759.2" fill="#E2444F"/>
<line x1="1289.6" y1="788.6" x2="1307.2" y2="788.6" stroke="#74A4D0" stroke-width="1.8" stroke-linecap="butt"/>
<polygon points="1298.4,782.6 1303.6,788.6 1298.4,794.6 1293.2,788.6" fill="#6CA6DA"/>
<text transform="translate(1316.8,736.3) scale(1,1.03)" font-size="26.8" text-anchor="start" fill="#000" >WT&#160;&#160;n = 8</text>
<text transform="translate(1314.5,767.5) scale(1,1.03)" font-size="27.2" text-anchor="start" fill="#000" >&#916;<tspan font-style="italic" dx="5">manY</tspan>&#160;&#160;n = 15</text>
<text transform="translate(1316.8,796.2) scale(1,1.03)" font-size="27.2" text-anchor="start" fill="#000" >C&#916;<tspan font-style="italic" dx="3">manY</tspan>&#160;&#160;n = 5</text>
<line x1="1505.8" y1="718.7" x2="1505.8" y2="756.7" stroke="#000" stroke-width="1.6" stroke-linecap="butt"/>
<line x1="1535" y1="711.8" x2="1535" y2="781" stroke="#000" stroke-width="1.6" stroke-linecap="butt"/>
<text transform="translate(1511.8,711.6) rotate(90)" font-size="23.6" text-anchor="start" fill="#000" >0.7488</text>
<text transform="translate(1544,711.6) rotate(90)" font-size="23.6" text-anchor="start" fill="#000" >0.4048</text>
</svg>
</body></html>
